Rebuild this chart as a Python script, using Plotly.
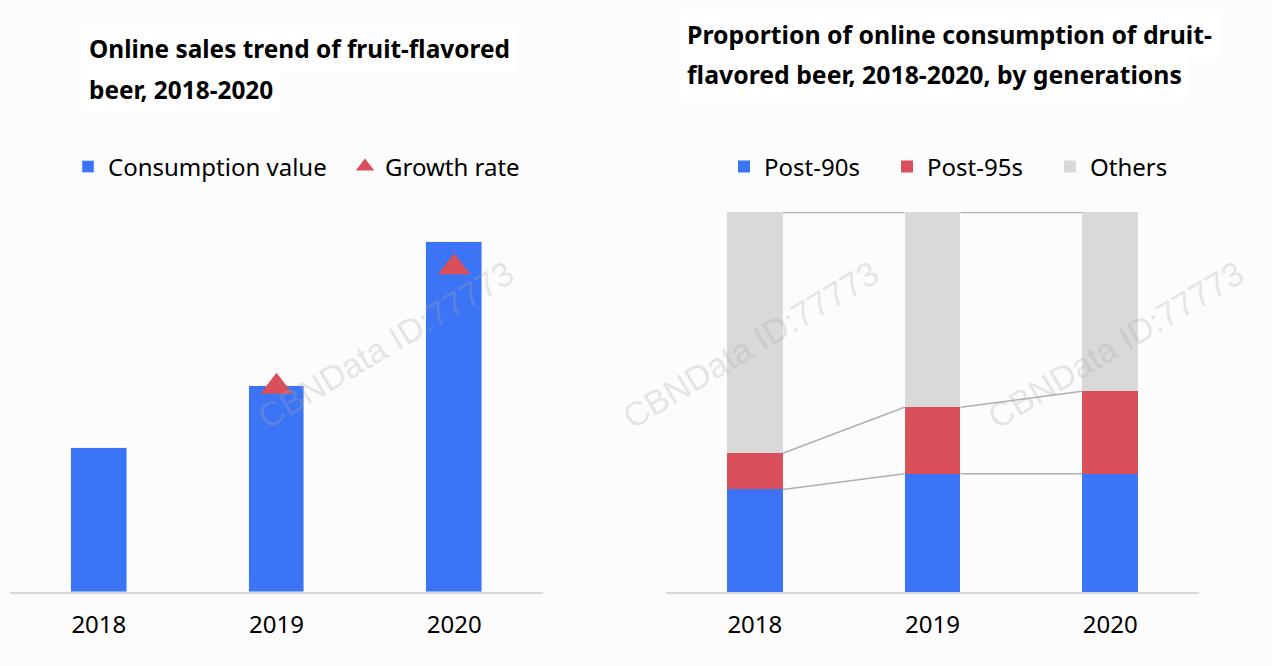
import plotly.graph_objects as go

# ---------------- data ----------------
years = ["2018", "2019", "2020"]
consumption_value = [144, 206, 350]          # relative index
growth_rate = [None, 0.43, 0.68]              # growth rate (triangles)

post90 = [27.0, 31.1, 31.1]                   # % share
post95 = [9.5, 17.5, 21.7]
others = [63.5, 51.4, 47.2]

left_title = ["Online sales trend of fruit-flavored", "beer, 2018-2020"]
right_title = ["Proportion of online consumption of druit-", "flavored beer, 2018-2020, by generations"]

BLUE = "#3B74F5"
RED = "#D9505A"
GRAY = "#D9D9D9"
LINE = "#B0B0B0"
FONT = "Noto Sans"
BAR_W = 0.315

W, H = 1272, 666
def px_x(p):
    return p / W
def px_y(p):
    return 1 - p / H

fig = go.Figure()

# ---------- left chart ----------
fig.add_trace(go.Bar(
    x=[0, 1, 2], y=consumption_value, width=BAR_W, marker_color=BLUE,
    name="Consumption value", xaxis="x", yaxis="y", legend="legend",
))
fig.add_trace(go.Scatter(
    x=[0, 1, 2], y=growth_rate, mode="markers",
    marker=dict(symbol="triangle-up", size=28, color=RED),
    name="Growth rate", xaxis="x", yaxis="y3", legend="legend",
))

# ---------- right chart ----------
xs = [0, 1, 2]
for vals, name, col in [(post90, "Post-90s", BLUE), (post95, "Post-95s", RED), (others, "Others", GRAY)]:
    fig.add_trace(go.Bar(
        x=xs, y=vals, width=BAR_W, marker_color=col, marker_line_width=0,
        name=name, xaxis="x2", yaxis="y2", legend="legend2",
    ))

# connector lines between stacked segments
cum1 = post90
cum2 = [a + b for a, b in zip(post90, post95)]
cum3 = [a + b + c for a, b, c in zip(post90, post95, others)]
for cum, lw in [(cum1, 1.5), (cum2, 1.5), (cum3, 2.5)]:
    lx, ly = [], []
    for i in range(len(xs) - 1):
        lx += [xs[i] + BAR_W / 2, xs[i + 1] - BAR_W / 2, None]
        ly += [cum[i], cum[i + 1], None]
    fig.add_trace(go.Scatter(
        x=lx, y=ly, mode="lines", line=dict(color=LINE, width=lw),
        showlegend=False, hoverinfo="skip", xaxis="x2", yaxis="y2",
    ))

axis_common = dict(
    tickmode="array", tickvals=[0, 1, 2], ticktext=years, range=[-0.5, 2.5],
    showgrid=False, zeroline=False, showline=True, linecolor="#D9D9D9", linewidth=1.5,
    ticks="", tickfont=dict(family=FONT, size=24, color="#000"), ticklabelstandoff=10,
)

left_top = 222
right_top = 212
base = 592

fig.update_layout(
    width=W, height=H,
    margin=dict(l=0, r=0, t=0, b=0),
    paper_bgcolor="#FCFCFC", plot_bgcolor="rgba(0,0,0,0)",
    barmode="stack", bargap=0,
    font=dict(family=FONT, color="#000"),
    xaxis=dict(domain=[px_x(10), px_x(543)], anchor="y", **axis_common),
    yaxis=dict(domain=[px_y(base), px_y(left_top)], range=[0, base - left_top],
               visible=False),
    yaxis3=dict(overlaying="y", anchor="x", range=[0, 0.43 * (base - left_top) / 205.3],
                visible=False),
    xaxis2=dict(domain=[px_x(666), px_x(1199)], anchor="y2", **axis_common),
    yaxis2=dict(domain=[px_y(base), px_y(right_top)], range=[0, 100], visible=False),
    legend=dict(
        orientation="h", x=px_x(68), y=px_y(167), xanchor="left", yanchor="middle",
        font=dict(family=FONT, size=24, color="#000"), bgcolor="rgba(0,0,0,0)",
        itemwidth=30, entrywidth=232, traceorder="normal", itemclick=False,
    ),
    legend2=dict(
        orientation="h", x=px_x(724), y=px_y(167), xanchor="left", yanchor="middle",
        font=dict(family=FONT, size=24, color="#000"), bgcolor="rgba(0,0,0,0)",
        itemwidth=30, entrywidth=118, traceorder="normal", itemclick=False,
    ),
    showlegend=True,
)

# watermarks (the fully visible ones)
annotations = []
for cx in [385, 750, 1115]:
    annotations.append(dict(
        text="CBNData ID:77773", x=px_x(cx), y=px_y(345), xref="paper", yref="paper",
        xanchor="center", yanchor="middle",
        showarrow=False, textangle=-31,
        font=dict(family="Liberation Sans", size=34, color="rgba(170,170,170,0.28)"),
    ))

# titles (one annotation per line for the wide line spacing)
for txt, yc in zip(left_title, [49, 90]):
    annotations.append(dict(
        text="<b>" + txt + "</b>", x=px_x(82), y=px_y(yc), xref="paper", yref="paper",
        xanchor="left", yanchor="middle", align="left", showarrow=False,
        bgcolor="#FFFFFF", borderpad=6,
        font=dict(family=FONT, size=24.4, color="#000"),
    ))
for txt, yc in zip(right_title, [34, 74]):
    annotations.append(dict(
        text="<b>" + txt + "</b>", x=px_x(680), y=px_y(yc), xref="paper", yref="paper",
        xanchor="left", yanchor="middle", align="left", showarrow=False,
        bgcolor="#FFFFFF", borderpad=6,
        font=dict(family=FONT, size=24.8, color="#000"),
    ))
fig.update_layout(annotations=annotations)

fig.write_html("out.html")
